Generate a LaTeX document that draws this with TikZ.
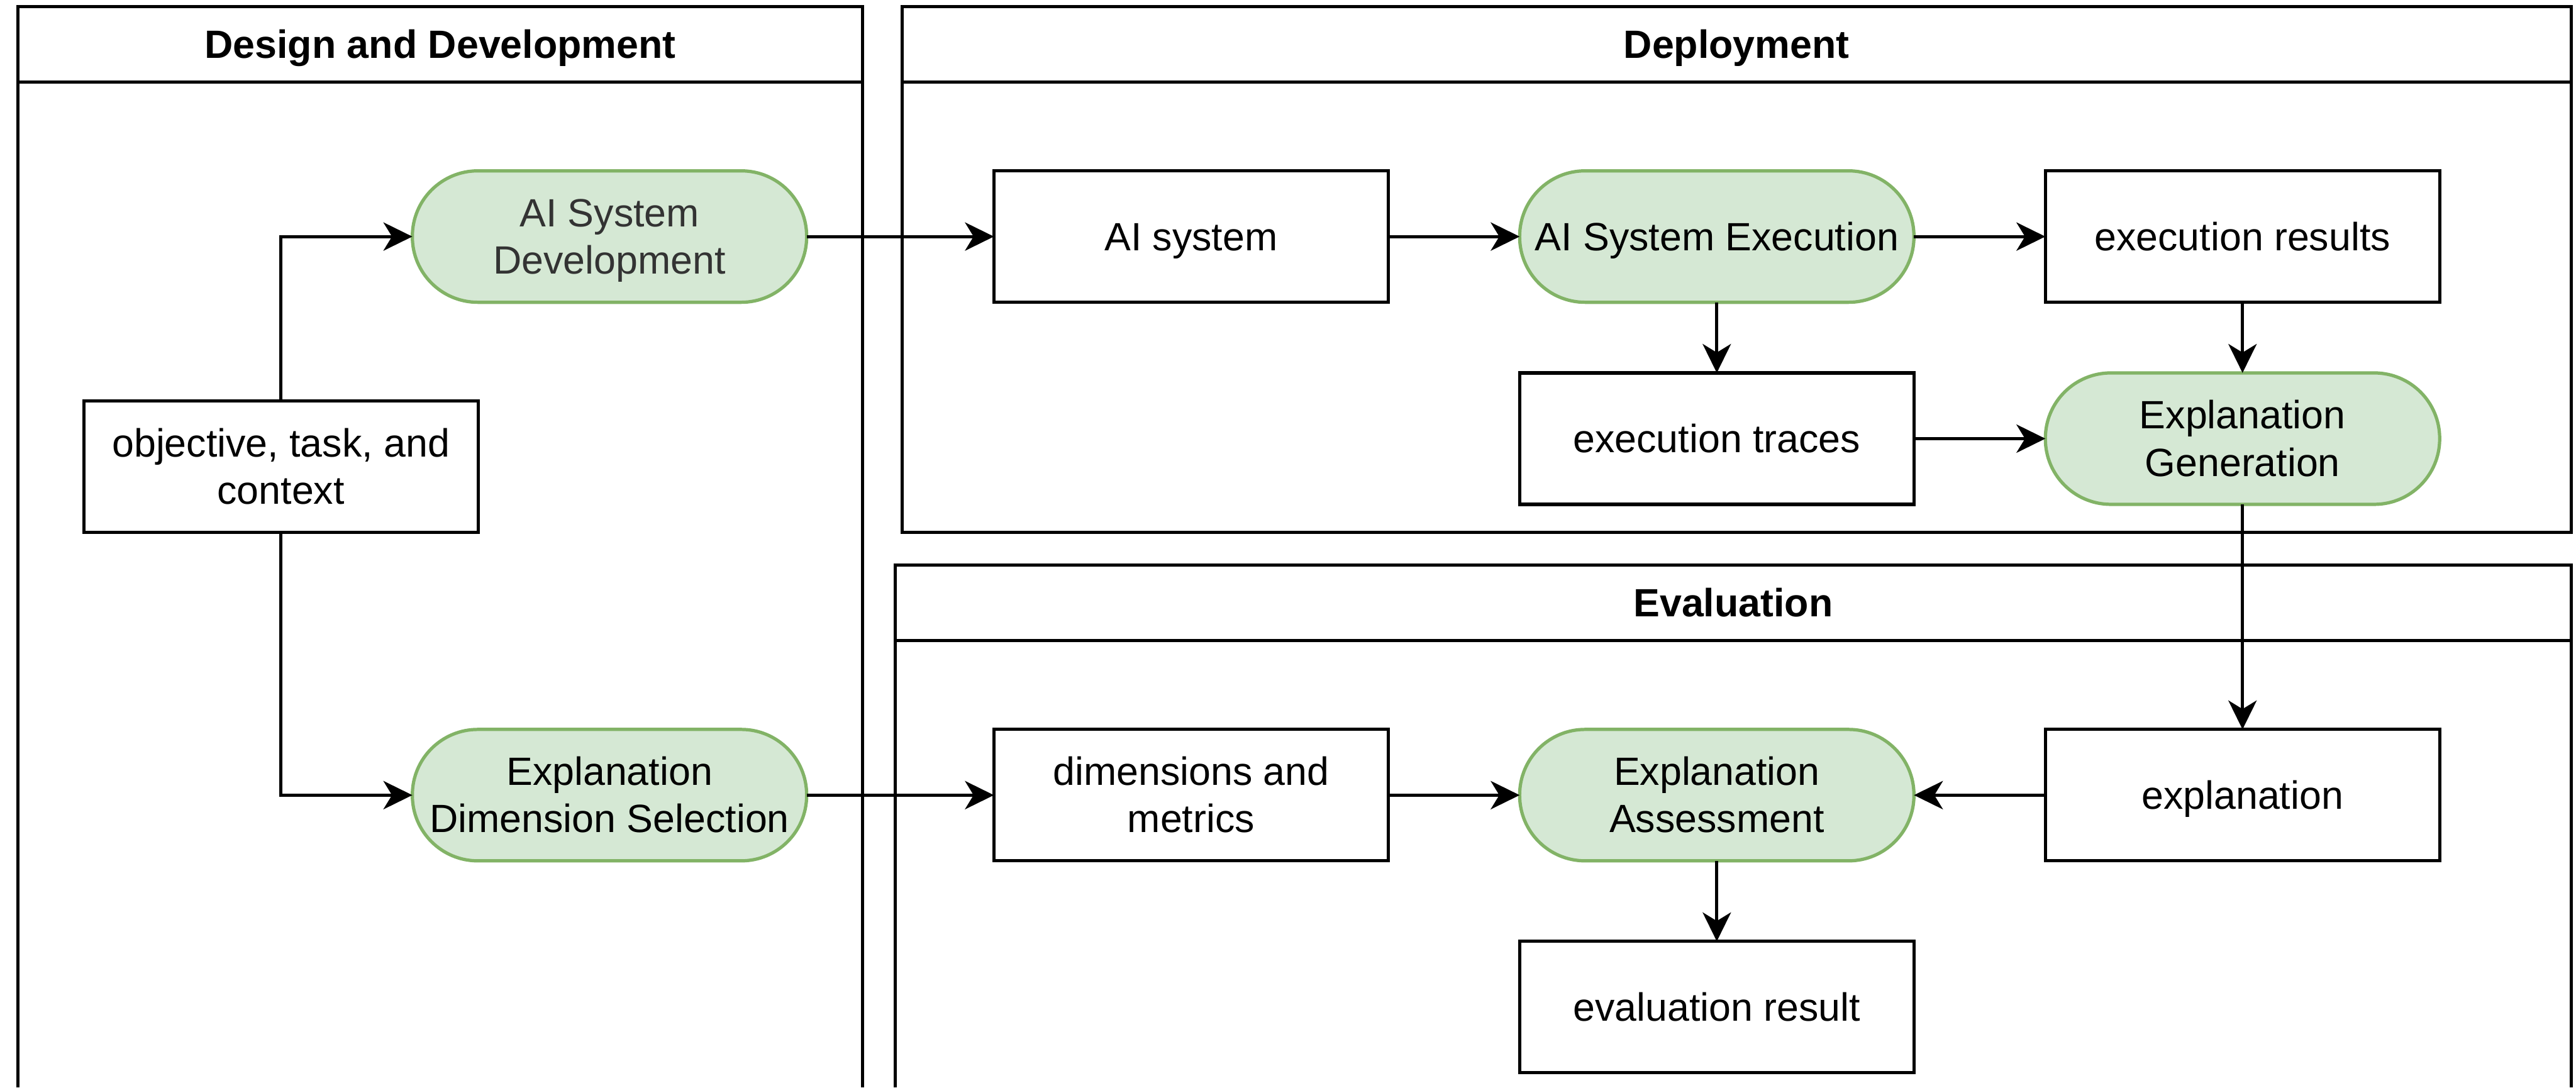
\documentclass[tikz,border=0pt]{standalone}
\usepackage{fontspec}
\setmainfont{Liberation Sans}
\usepackage{tikz}
\usetikzlibrary{arrows.meta}
\usetikzlibrary{positioning}
\tikzset{>={Stealth[length=8.8pt,width=8.6pt,inset=2.6pt]}}
\usepackage{xcolor}
\definecolor{actfill}{HTML}{D5E8D4}
\definecolor{actline}{HTML}{82B366}
\colorlet{devtxt}{black!80}
\newcommand\linestrut{\rule[-3pt]{0pt}{14.4pt}}
\newcommand\twolines[2]{\linestrut#1\\#2\linestrut}

\tikzset{
	txt/.style={font=\fontsize{12}{14.4}\selectfont},
	lane/.style={line width=1pt},
	lanetitle/.style={txt,inner sep=0pt,font=\fontsize{12}{14.4}\selectfont\bfseries,
		execute at begin node=\linestrut},
	item/.style={txt,draw,line width=1pt,minimum width=120pt,minimum height=40pt,
		inner sep=0pt,outer sep=0pt,align=center},
	act/.style={item,draw=actline,fill=actfill,rounded corners=19.9pt},
	flow/.style={->,line width=1pt},
}

\begin{document}
\begin{tikzpicture}[x=1pt,y=-1pt]
	\useasboundingbox (0,0) rectangle (784,331);
	
	% LANES
	\draw[lane] (5.5,331) -- (5.5,2) -- (262.5,2) -- (262.5,331);
	\draw[lane] (5.5,25) -- (262.5,25);
	\node[lanetitle] (tDesign) at (134,13.5) {Design and Development};
	
	\draw[lane] (274.5,2) rectangle (782.5,162);
	\draw[lane] (274.5,25) -- (782.5,25);
	\node[lanetitle] (tDeploy) at (528.5,13.5) {Deployment};
	
	\draw[lane] (272.5,331) -- (272.5,172) -- (782.5,172) -- (782.5,331);
	\draw[lane] (272.5,195) -- (782.5,195);
	\node[lanetitle] (tEval) at (527.5,183.5) {Evaluation};
	
	% DESIGN AND DEVELOPMENT
	\node[item] (goal) at (85.5,142) {\twolines{objective, task, and}{context}};
	\node[act,text=devtxt] (dev) at (185.5,72) {\twolines{AI System}{Development}};
	\node[act] (dims) at (185.5,242) {\twolines{Explanation}{Dimension Selection}};
	
	% DEPLOYMENT
	\node[item] (sys) at (362.5,72) {\linestrut AI system};
	\node[act,right=40pt of sys] (exec) {\linestrut AI System Execution};
	\node[item,right=40pt of exec] (res) {\linestrut execution results};
	\node[item] (trace) at (522.5,133.5) {\linestrut execution traces};
	\node[act,right=40pt of trace] (gen) {\twolines{Explanation}{Generation}};
	
	% EVALUATION
	\node[item] (metr) at (362.5,242) {\twolines{dimensions and}{metrics}};
	\node[act,right=40pt of metr] (assess) {\twolines{Explanation}{Assessment}};
	\node[item,right=40pt of assess] (expl) {\linestrut explanation};
	\node[item] (result) at (522.5,306.5) {\linestrut evaluation result};
	
	% FLOWS
	\draw[flow] (goal.north) |- (dev.west);
	\draw[flow] (goal.south) |- (dims.west);
	\draw[flow] (dev) -- (sys);
	\draw[flow] (sys) -- (exec);
	\draw[flow] (exec) -- (res);
	\draw[flow] (exec) -- (trace);
	\draw[flow] (res) -- (gen);
	\draw[flow] (trace) -- (gen);
	\draw[flow] (gen) -- (expl);
	\draw[flow] (dims) -- (metr);
	\draw[flow] (metr) -- (assess);
	\draw[flow] (expl) -- (assess);
	\draw[flow] (assess) -- (result);
\end{tikzpicture}
\end{document}
